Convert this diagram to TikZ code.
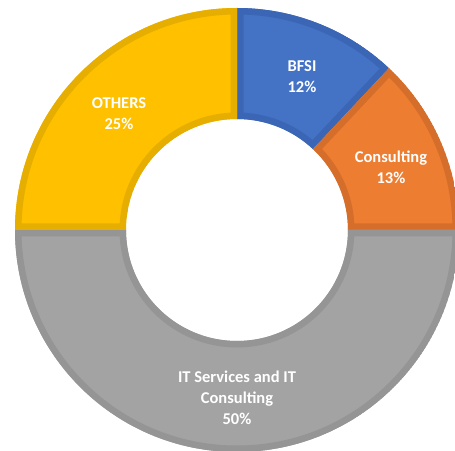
\documentclass[tikz,border=0pt]{standalone}
\usepackage{fontspec}
\setmainfont{Carlito}
\definecolor{cblue}{HTML}{4472C4}
\definecolor{cblueb}{HTML}{3B66B5}
\definecolor{corange}{HTML}{ED7D31}
\definecolor{corangeb}{HTML}{D56E2B}
\definecolor{cgray}{HTML}{A3A3A3}
\definecolor{cgrayb}{HTML}{959595}
\definecolor{cgold}{HTML}{FFC000}
\definecolor{cgoldb}{HTML}{E6AE00}
\newcommand{\donutseg}[4]{%
  \begin{scope}
    \clip (#1:222) arc[start angle=#1, end angle=#2, radius=222] -- (#2:111) arc[start angle=#2, end angle=#1, radius=111] -- cycle;
    \fill[#3] (#1:222) arc[start angle=#1, end angle=#2, radius=222] -- (#2:111) arc[start angle=#2, end angle=#1, radius=111] -- cycle;
    \draw[#4, line width=13pt, line join=miter] (#1:222) arc[start angle=#1, end angle=#2, radius=222] -- (#2:111) arc[start angle=#2, end angle=#1, radius=111] -- cycle;
  \end{scope}}
\tikzset{lbl/.style={text=white, font=\fontsize{16.5}{21}\selectfont\bfseries, align=center, inner sep=0pt}}
\begin{document}
\begin{tikzpicture}[x=1pt,y=1pt]
\useasboundingbox (0,0) rectangle (455,450);
\clip (0,0) rectangle (455,450);
\fill[white] (0,0) rectangle (455,450);
\begin{scope}[shift={(237,220)}]
  \donutseg{90}{46.8}{cblue}{cblueb}
  \donutseg{46.8}{0}{corange}{corangeb}
  \donutseg{0}{-180}{cgray}{cgrayb}
  \donutseg{180}{90}{cgold}{cgoldb}
\end{scope}
\node[lbl] (bfsi) at (302,373) {BFSI\\12\%};
\node[lbl] (cons) at (391,283) {Consulting\\13\%};
\node[lbl] (oth) at (119,336) {OTHERS\\25\%};
\node[lbl] (its) at (237,52) {IT Services and IT\\Consulting\\50\%};
\end{tikzpicture}
\end{document}
